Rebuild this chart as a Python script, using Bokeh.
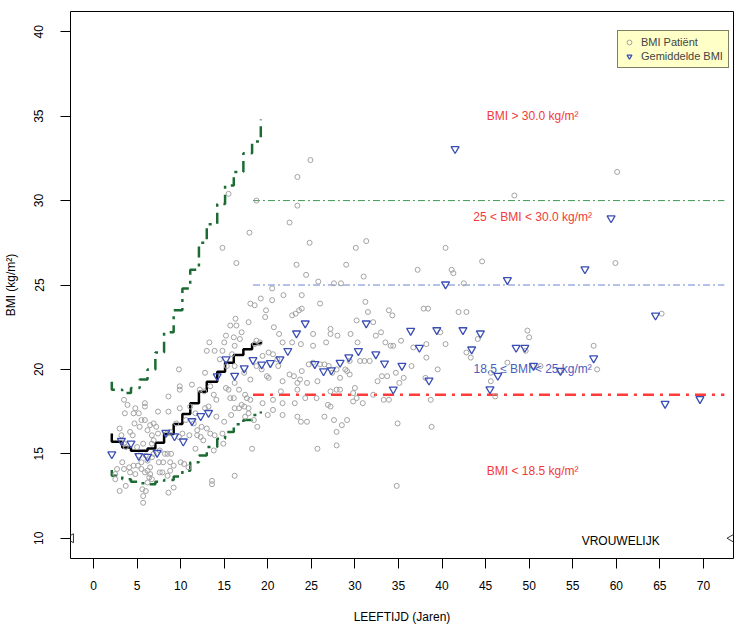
from bokeh.plotting import figure
from bokeh.models import Range1d, FixedTicker, Legend, LegendItem, ColumnDataSource
from bokeh.core.properties import value
from bokeh.embed import file_html
from bokeh.resources import INLINE

FONT = "Liberation Sans"

# ---------------- data ----------------
x_ticks = [0, 5, 10, 15, 20, 25, 30, 35, 40, 45, 50, 55, 60, 65, 70]
y_ticks = [10, 15, 20, 25, 30, 35, 40]

patient_pts = [
    (18.0,23.9),(18.5,23.8),(16.3,23.0),(15.7,22.6),(16.4,22.6),(17.8,22.8),(17.0,22.2),(15.2,22.0),(16.1,21.9),(16.8,21.8),
    (13.3,21.6),(15.0,21.6),(16.2,21.4),(13.0,21.1),(13.9,21.1),(14.8,21.1),(15.9,20.9),(18.7,21.7),(18.5,21.5),(19.1,21.6),
    (9.8,20.0),(12.8,19.8),(14.5,20.6),(15.3,20.2),(16.2,20.2),(18.7,20.2),(19.3,20.0),(18.0,19.4),(17.3,19.8),(9.9,19.0),
    (9.9,18.8),(11.3,19.1),(12.2,18.8),(12.7,18.7),(13.4,19.0),(13.8,18.5),(14.1,18.2),(15.2,18.9),(15.5,18.8),(16.2,19.2),
    (16.7,18.8),(15.7,18.3),(16.1,18.3),(17.4,18.5),(17.6,18.3),(18.0,18.2),(8.6,18.4),(5.9,18.0),(5.9,17.8),(4.8,17.7),
    (4.6,17.4),(5.2,17.4),(3.9,17.9),(3.5,18.2),(3.6,17.4),(5.5,17.0),(5.9,17.0),(7.4,17.5),(8.6,17.5),(9.9,17.7),
    (11.1,17.8),(11.7,17.4),(12.8,17.7),(13.2,17.8),(14.1,17.2),(15.0,16.9),(15.8,17.3),(16.2,17.7),(16.7,17.7),(17.0,17.9),
    (17.3,17.8),(17.8,17.7),(17.8,17.4),(17.4,17.2),(18.4,17.0),(18.8,16.6),(6.5,16.7),(6.9,16.8),(7.2,16.6),(7.4,16.2),
    (6.2,16.4),(5.3,16.6),(4.7,16.8),(3.0,16.5),(4.2,16.3),(4.5,16.1),(3.2,16.1),(6.7,16.1),(6.9,15.8),(8.4,16.2),
    (8.8,16.3),(9.5,16.8),(10.6,17.0),(11.5,16.8),(11.9,16.4),(12.4,16.6),(13.0,16.5),(13.4,16.2),(13.9,16.1),(14.8,16.2),
    (11.9,16.1),(12.3,16.0),(11.0,16.1),(9.8,16.0),(10.2,16.2),(12.6,15.8),(11.7,15.3),(13.8,15.2),(14.9,15.6),(18.2,15.3),
    (3.5,15.6),(3.7,15.4),(5.0,15.4),(5.7,15.6),(6.7,15.6),(6.9,15.0),(6.7,14.8),(7.6,15.2),(8.2,15.0),(8.5,15.0),
    (8.9,15.0),(6.2,14.6),(5.5,14.5),(5.1,14.3),(4.6,14.3),(4.1,14.2),(3.5,14.1),(2.7,14.1),(3.3,14.5),(5.2,14.9),
    (6.0,14.9),(7.5,14.5),(8.0,14.5),(8.8,14.5),(9.2,14.3),(10.0,14.5),(10.4,14.4),(10.9,14.2),(5.5,14.1),(5.9,13.9),
    (6.2,14.0),(6.5,13.8),(6.4,13.6),(6.7,13.5),(6.2,13.3),(7.9,13.9),(7.6,13.9),(8.5,13.7),(8.8,14.0),(6.5,14.2),
    (4.8,13.8),(4.2,13.9),(2.5,13.8),(2.5,13.5),(3.0,12.8),(3.7,13.1),(5.6,12.9),(6.0,12.8),(5.7,12.5),(5.7,12.1),
    (8.6,12.7),(9.2,13.0),(13.6,13.4),(13.6,13.2),(16.2,13.7),
    (15.5,30.4),(14.8,27.2),(16.4,26.3),
    (17.9,28.1),(18.7,30.0),(23.4,29.7),(22.5,28.7),(24.8,27.5),(30.1,27.2),(31.3,27.6),(23.3,26.2),(24.4,25.6),(25.8,25.2),
    (27.6,25.1),(28.4,25.1),(29.0,26.2),(31.0,25.5),(20.5,24.8),(21.8,24.4),(23.9,24.4),(19.2,24.2),(19.8,23.5),(20.5,24.1),
    (26.0,23.9),(22.8,23.2),(23.2,23.3),(23.6,23.5),(23.9,23.6),(19.7,23.1),(20.7,22.5),(21.3,22.1),(21.7,21.6),(22.8,21.6),
    (23.8,21.5),(25.2,22.1),(25.2,21.4),(26.7,21.6),(27.2,22.1),(27.2,22.4),(28.0,22.0),(29.5,22.1),(30.3,21.6),(30.2,22.9),
    (31.2,24.0),(31.5,23.4),(32.1,22.8),(32.4,22.0),(33.0,22.2),(33.9,23.5),(34.3,23.2),(33.5,21.6),(34.1,21.4),(34.4,21.4),
    (35.3,21.7),(36.7,21.3),(37.9,23.6),(38.4,23.6),(38.2,21.5),(38.2,20.7),(39.8,22.2),(40.4,21.5),(41.9,23.4),(42.8,23.4),
    (44.6,26.4),(37.2,25.9),(40.4,27.2),(41.1,25.9),(41.3,25.7),(42.5,25.1),(48.3,30.3),(59.9,26.3),(65.2,23.3),(49.8,22.3),
    (50.0,21.9),(49.6,21.1),(57.4,21.4),(57.8,20.0),(47.5,20.4),(45.6,19.8),(45.6,19.3),(51.3,20.2),(53.5,19.9),(50.4,20.2),
    (42.8,21.0),(43.3,20.7),(44.1,21.8),(39.5,20.0),(36.5,20.2),(38.1,19.5),(35.6,19.5),(35.1,19.2),(34.7,19.8),(33.7,19.6),
    (32.6,19.3),(33.1,19.6),(32.1,18.5),(30.0,18.9),(29.8,18.6),(29.4,19.7),(28.9,20.0),(28.3,19.5),(27.9,20.0),(27.4,19.8),
    (27.0,20.2),(26.5,20.3),(26.0,20.3),(25.2,20.4),(24.7,20.3),(23.9,19.9),(23.7,19.4),(23.4,19.2),(23.0,19.6),(22.5,19.7),
    (21.7,19.3),(21.2,20.2),(21.1,20.6),(20.6,20.9),(20.1,21.0),(19.9,19.6),(20.1,19.5),(19.4,20.8),(21.5,18.7),(23.4,18.8),
    (24.5,19.2),(25.7,19.3),(27.2,18.7),(27.9,18.8),(28.3,18.8),(29.1,19.9),(29.4,20.5),(30.6,20.5),(31.1,20.5),(31.7,20.5),
    (23.4,31.4),(24.9,32.4),(60.1,31.7),
    (19.4,18.0),(20.6,18.2),(21.7,18.0),(20.6,17.6),(23.1,18.0),(24.3,18.3),(25.6,18.3),(20.0,17.3),(21.7,17.3),(23.4,17.2),
    (23.8,16.9),(24.5,16.9),(26.5,17.2),(27.6,17.0),(28.5,16.7),(29.1,17.0),(27.9,16.3),(27.9,15.5),(25.7,15.3),(34.9,16.8),
    (38.8,16.6),(38.7,18.2),(34.8,13.1),(29.8,18.1),(30.9,18.0),(30.2,18.3),(33.3,18.2),(33.9,18.2),(26.9,17.9),(27.2,17.8),
    (46.1,18.4),
]
patient_age = [a for a, b in patient_pts]
patient_bmi = [b for a, b in patient_pts]

mean_age = [2.1, 3.2, 4.3, 5.2, 6.2, 7.3, 8.3, 9.3, 10.3, 11.3, 12.3, 13.2, 14.2, 15.2, 16.2, 17.3, 18.3, 19.3,
            20.3, 21.4, 22.3, 23.3, 24.3, 25.4, 26.4, 27.3, 28.3, 29.3, 30.4, 31.3, 32.4, 33.4, 34.4, 35.4, 36.4,
            37.4, 38.5, 39.4, 40.4, 41.5, 42.4, 43.4, 44.4, 45.5, 46.4, 47.5, 48.5, 49.5, 50.5, 53.6, 56.4, 57.4,
            59.4, 64.5, 65.6, 69.6]
mean_bmi = [14.98, 15.77, 15.62, 14.88, 14.83, 15.06, 16.25, 16.05, 15.74, 16.94, 17.24, 17.43, 19.6, 20.6, 19.63,
            20.07, 20.56, 20.3, 20.38, 20.61, 21.1, 22.14, 22.73, 20.32, 19.9, 19.96, 20.4, 20.72, 21.09, 22.73, 20.9,
            20.36, 18.82, 20.22, 22.29, 21.29, 19.35, 22.33, 25.04, 33.06, 22.33, 21.19, 22.14, 18.83, 19.63, 25.3,
            21.29, 21.29, 20.22, 19.92, 25.94, 20.66, 28.96, 23.2, 17.97, 18.25]

ref_age = [2.1, 2.1, 3.3, 4.3, 5.3, 6.2, 7.1, 8.1, 9.2, 10.2, 11.1, 12.1, 13.0, 14.2, 15.1, 16.1, 17.2, 18.2, 19.2]
median_bmi = [16.2, 15.72, 15.38, 15.18, 15.18, 15.32, 15.66, 16.17, 16.76, 17.36, 17.99, 18.68, 19.27, 19.86, 20.4,
              20.85, 21.19, 21.5, 21.64]
upper_bmi = [19.27, 18.8, 18.6, 18.9, 19.4, 20.0, 21.0, 22.2, 23.5, 24.8, 25.9, 27.5, 28.6, 29.8, 30.9, 31.7, 32.8,
             33.5, 34.8]
lower_bmi = [14.04, 13.7, 13.5, 13.35, 13.25, 13.2, 13.35, 13.45, 13.65, 14.0, 14.5, 14.9, 15.4, 15.9, 16.3, 16.75,
             17.0, 17.3, 17.5]

cut_start = 18.3
cut_end = 72.4
cut_values = [30.0, 25.0, 18.5]

zone_x = [50.4, 50.4, 50.4, 50.4]
zone_y = [35.0, 29.0, 20.0, 14.0]
zone_text = ["BMI > 30.0 kg/m²", "25 < BMI < 30.0 kg/m²", "18.5 ≤ BMI < 25 kg/m²", "BMI < 18.5 kg/m²"]
zone_color = ["#F23A3A", "#F23A3A", "#4A5EBE", "#F23A3A"]

edge_x = [-2.6, 73.3]
edge_y = [10, 10]

# ---------------- figure ----------------
p = figure(width=734, height=627, output_backend="svg", toolbar_location=None,
           x_range=Range1d(-2.64, 73.45), y_range=Range1d(8.8, 41.2))
p.min_border_left = 70
p.min_border_right = 1
p.min_border_top = 11
p.min_border_bottom = 69
p.outline_line_color = "black"
p.outline_line_width = 1
p.xgrid.visible = False
p.ygrid.visible = False
p.background_fill_color = "white"
p.border_fill_color = "white"

for ax in (p.xaxis, p.yaxis):
    ax.axis_line_color = None
    ax.minor_tick_line_color = None
    ax.major_tick_line_color = "black"
    ax.major_tick_in = 0
    ax.major_tick_out = 10
    ax.major_label_text_font = FONT
    ax.major_label_text_font_size = "12px"
    ax.major_label_text_color = "black"
    ax.axis_label_text_font = FONT
    ax.axis_label_text_font_size = "12px"
    ax.axis_label_text_font_style = "normal"
    ax.axis_label_text_color = "black"

p.xaxis.ticker = FixedTicker(ticks=x_ticks)
p.yaxis.ticker = FixedTicker(ticks=y_ticks)
p.xaxis.axis_label = "LEEFTIJD (Jaren)"
p.yaxis.axis_label = "BMI (kg/m²)"
p.yaxis.major_label_orientation = "vertical"
p.xaxis.major_label_standoff = 12
p.xaxis.axis_label_standoff = 17
p.yaxis.major_label_standoff = 17
p.yaxis.axis_label_standoff = 14

# cut-off lines
p.segment(x0=[cut_start], y0=[cut_values[0]], x1=[cut_end], y1=[cut_values[0]],
          line_color="#3E9A55", line_width=1, line_dash="7 3 2 3")
p.segment(x0=[cut_start], y0=[cut_values[1]], x1=[cut_end], y1=[cut_values[1]],
          line_color="#6F84D4", line_width=1.2, line_dash="7 3 2 3")
p.segment(x0=[cut_start], y0=[cut_values[2]], x1=[cut_end], y1=[cut_values[2]],
          line_color="#FF3A3A", line_width=2.5, line_dash="11 6 3 6")

# reference curves
p.step(ref_age, upper_bmi, mode="after", line_color="#1C6B33", line_width=2.5, line_dash="11 6 3 6")
p.step(ref_age, lower_bmi, mode="after", line_color="#1C6B33", line_width=2.5, line_dash="11 6 3 6")
p.step(ref_age, median_bmi, mode="after", line_color="black", line_width=2.5)

# points
r_pts = p.scatter(patient_age, patient_bmi, marker="circle", size=5, fill_color=None,
                  line_color="#A3A3A3", line_width=1)
r_mean = p.scatter(mean_age, mean_bmi, marker="inverted_triangle", size=8, fill_color=None,
                   line_color="#3A4DB4", line_width=1.3)

p.scatter(edge_x, edge_y, marker="triangle", angle=1.5708, size=9, fill_color=None,
          line_color="#333333", line_width=1)

src = ColumnDataSource(dict(x=zone_x, y=zone_y, t=zone_text, c=zone_color))
p.text(x="x", y="y", text="t", text_color="c", source=src, text_font=value(FONT),
       text_font_size=value("12px"), text_align="center", text_baseline="middle")
p.text(x=[60.5], y=[9.85], text=["VROUWELIJK"], text_color="black", text_font=value(FONT),
       text_font_size=value("12px"), text_align="center", text_baseline="middle")

legend = Legend(items=[LegendItem(label="BMI Patiënt", renderers=[r_pts]),
                       LegendItem(label="Gemiddelde BMI", renderers=[r_mean])],
                location=(547, 490))
legend.background_fill_color = "#FFFFC8"
legend.background_fill_alpha = 1
legend.border_line_color = "black"
legend.border_line_width = 1
legend.label_text_font = FONT
legend.label_text_font_size = "11px"
legend.glyph_width = 12
legend.glyph_height = 12
legend.label_height = 12
legend.label_standoff = 6
legend.spacing = 2
legend.padding = 5
legend.margin = 0
p.add_layout(legend)

open("out.html", "w").write(file_html(p, INLINE))
